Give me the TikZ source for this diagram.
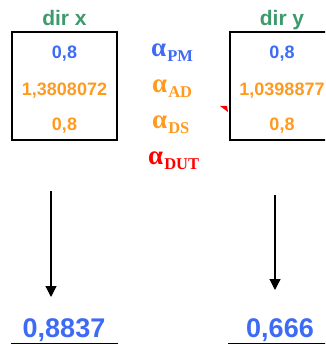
\documentclass[tikz,border=0pt]{standalone}
\usepackage{fontspec}
\setmainfont{Liberation Sans}
\newfontfamily\serifbold{Liberation Serif}[BoldFont={* Bold}]
\usetikzlibrary{arrows.meta}
\definecolor{vblue}{HTML}{3D6BF5}
\definecolor{vorange}{HTML}{FF9A1F}
\definecolor{vgreen}{HTML}{3C9A6C}
\definecolor{vred}{HTML}{FF0000}
\tikzset{
  box/.style={draw=black, line width=2pt, minimum width=105pt, minimum height=108pt, inner sep=0pt},
  val/.style={font=\bfseries\fontsize{18}{18}\selectfont, anchor=base, inner sep=0pt},
  head/.style={font=\bfseries\fontsize{21}{21}\selectfont, text=vgreen, anchor=base, inner sep=0pt},
  res/.style={font=\bfseries\fontsize{27}{27}\selectfont, text=vblue, anchor=base, inner sep=0pt},
  alab/.style={font=\serifbold\bfseries\fontsize{27}{27}\selectfont, anchor=base west, inner sep=0pt},
  arr/.style={line width=1.2pt, -{Triangle[width=11pt,length=11pt]}},
  uline/.style={line width=1pt}
}
\newcommand{\subl}[1]{\hspace{1pt}\raisebox{-5pt}{\fontsize{16.5}{16.5}\selectfont #1}}
\begin{document}
\begin{tikzpicture}[x=1pt,y=-1pt]
\useasboundingbox (0,0) rectangle (325,344);
\begin{scope}
\clip (0,0) rectangle (325,344);
% headers
\node[head] (hx) at (64.5,26) {dir x};
\node[head] (hy) at (282,26) {dir y};
% boxes
\node[box] (bx) at (64.5,86) {};
\node[box] (by) at (282,86) {};
% values left
\node[val, text=vblue] (x1) at (64.5,59) {0,8};
\node[val, text=vorange] (x2) at (64.5,96) {1,3808072};
\node[val, text=vorange] (x3) at (64.5,131) {0,8};
% values right
\node[val, text=vblue] (y1) at (282,59) {0,8};
\node[val, text=vorange] (y2) at (282,96) {1,0398877};
\node[val, text=vorange] (y3) at (282,131) {0,8};
% alpha labels
\node[alab, text=vblue] (aPM) at (151,57) {α\subl{PM}};
\node[alab, text=vorange] (aAD) at (152,93) {α\subl{AD}};
\node[alab, text=vorange] (aDS) at (152,129) {α\subl{DS}};
\node[alab, text=vred] (aDUT) at (148,165) {α\subl{DUT}};
% small red tip
\fill[vred] (220,106) -- (227,106) -- (228,112) -- cycle;
% arrows
\coordinate (sx) at (51,191);
\coordinate (ex) at (51,297);
\coordinate (sy) at (275,195);
\coordinate (ey) at (275,290);
\draw[arr] (sx) -- (ex);
\draw[arr] (sy) -- (ey);
% results
\node[res] (rx) at (64,337) {0,8837};
\node[res] (ry) at (280,337) {0,666};
\coordinate (ux1) at (11,343);
\coordinate (ux2) at (118,343);
\coordinate (uy1) at (228,343);
\coordinate (uy2) at (330,343);
\draw[uline] (ux1) -- (ux2);
\draw[uline] (uy1) -- (uy2);
\end{scope}
\end{tikzpicture}
\end{document}
